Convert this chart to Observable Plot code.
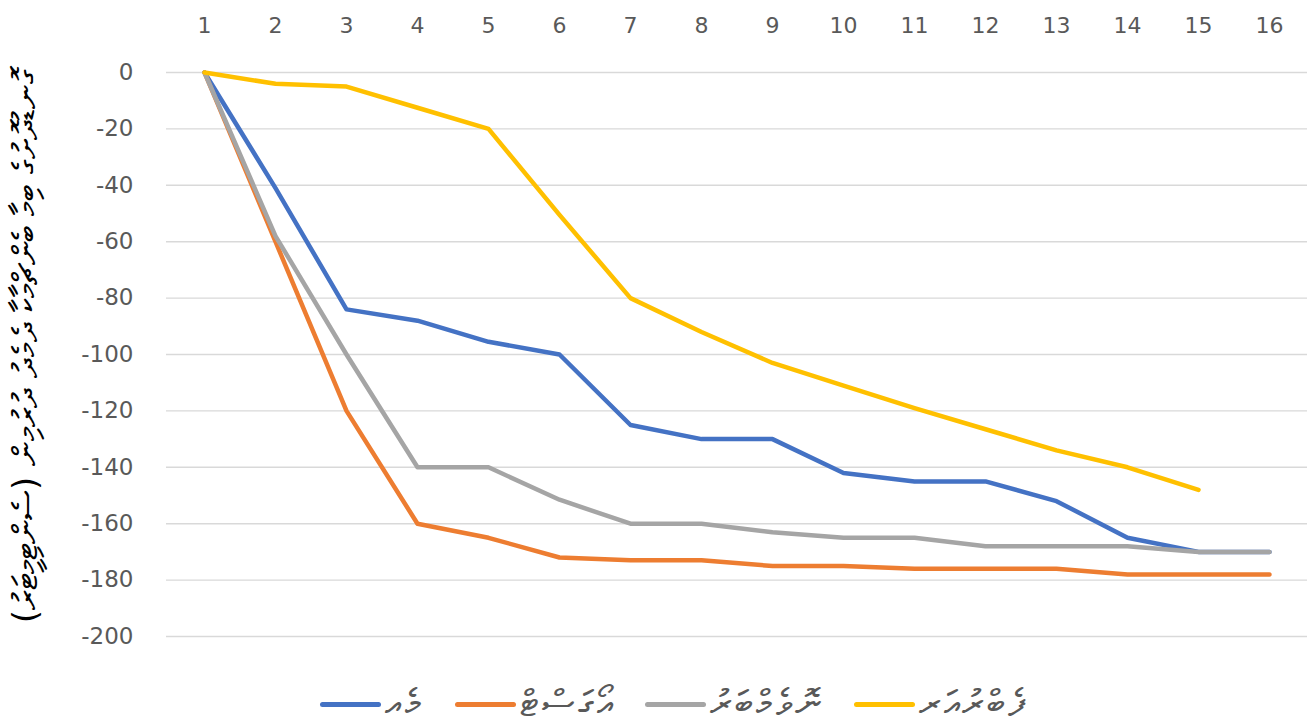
<!DOCTYPE html>
<html>
<head>
<meta charset="utf-8">
<script src="https://cdn.jsdelivr.net/npm/d3@7"></script>
<script src="https://cdn.jsdelivr.net/npm/@observablehq/plot@0.6"></script>
<style>
  html, body { margin: 0; padding: 0; background: #ffffff; }
  #chart svg { display: block; }
  #legend { display: flex; justify-content: center; align-items: center; gap: 30px; padding-top: 32px; padding-left: 40px; height: 24px; }
  .item { display: flex; align-items: center; gap: 4px; }
  .sw { width: 61px; height: 5px; border-radius: 3px; }
  .lbl { font-family: "DejaVu Sans", sans-serif; font-size: 37px; letter-spacing: 3px; line-height: 24px; color: #595959; direction: rtl; }
</style>
</head>
<body>
<div id="chart"></div>
<div id="legend"></div>
<script>
const periods = [1, 2, 3, 4, 5, 6, 7, 8, 9, 10, 11, 12, 13, 14, 15, 16];
const seriesNames = ["މެއި", "އޯގަސްޓް", "ނޮވެމްބަރު", "ފެބްރުއަރީ"];
const seriesColors = ["#4472C4", "#ED7D31", "#A5A5A5", "#FFC000"];
const may      = [0, -41, -84, -88, -95.5, -100, -125, -130, -130, -142, -145, -145, -152, -165, -170, -170];
const august   = [0, -60, -120, -160, -165, -172, -173, -173, -175, -175, -176, -176, -176, -178, -178, -178];
const november = [0, -58, -100, -140, -140, -151.5, -160, -160, -163, -165, -165, -168, -168, -168, -170, -170];
const february = [0, -4, -5, -12.5, -20, -50.5, -80, -92, -103, -111, -119, -126.5, -134, -140, -148, null];
const yTicks = [0, -20, -40, -60, -80, -100, -120, -140, -160, -180, -200];
const yLabel = "ގޮނޑުދޮށުގެ ބިމާ ބެންޗްމާކާ ދެމެދު ދުރުމިން (ސެންޓިމީޓަރު)";

const seriesValues = [may, august, november, february];
const rows = [];
seriesValues.forEach((vals, si) => {
  vals.forEach((v, i) => {
    if (v !== null) rows.push({period: periods[i], value: v, series: seriesNames[si]});
  });
});

const tickFont = "'DejaVu Sans', sans-serif";

const plot = Plot.plot({
  width: 1307,
  height: 660,
  marginLeft: 166,
  marginRight: 0,
  marginTop: 72,
  marginBottom: 24,
  x: {type: "point", domain: periods, padding: 0.5, label: null},
  y: {domain: [-200, 0], label: null},
  color: {domain: seriesNames, range: seriesColors},
  marks: [
    Plot.gridY({ticks: yTicks, stroke: "#d9d9d9", strokeOpacity: 1, strokeWidth: 1.4}),
    Plot.axisY({ticks: yTicks, tickSize: 0, tickPadding: 33, tickFormat: d => String(d), fontSize: 23, fontFamily: tickFont, fill: "#595959", label: null}),
    Plot.axisX({anchor: "top", ticks: periods, tickSize: 0, tickPadding: 40, tickFormat: d => String(d), fontSize: 22, fontFamily: tickFont, fill: "#595959", label: null}),
    Plot.line(rows, {x: "period", y: "value", z: "series", stroke: "series", strokeWidth: 4.5, strokeLinejoin: "round", strokeLinecap: "round"}),
    Plot.text([yLabel], {frameAnchor: "left", rotate: -90, dx: -140, dy: -8, fontSize: 34, fontFamily: "DejaVu Sans", fill: "#000000", textAnchor: "middle"})
  ]
});
document.getElementById("chart").appendChild(plot);

const legend = document.getElementById("legend");
seriesNames.forEach((name, i) => {
  const item = document.createElement("div");
  item.className = "item";
  const sw = document.createElement("div");
  sw.className = "sw";
  sw.style.background = seriesColors[i];
  const lbl = document.createElement("span");
  lbl.className = "lbl";
  lbl.textContent = name;
  item.appendChild(sw);
  item.appendChild(lbl);
  legend.appendChild(item);
});
</script>
</body>
</html>
